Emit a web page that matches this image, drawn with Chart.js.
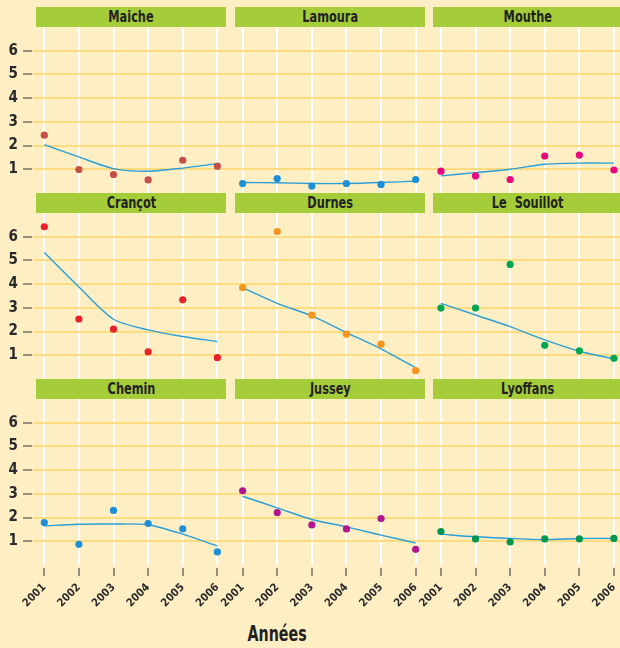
<!DOCTYPE html>
<html>
<head>
<meta charset="utf-8">
<script src="https://cdn.jsdelivr.net/npm/chart.js@4.4.0/dist/chart.umd.min.js"></script>
<style>
  body { margin: 0; width: 620px; height: 648px; background: #fdeec4; overflow: hidden; position: relative;
         font-family: 'Liberation Sans Narrow', 'DejaVu Sans Condensed', sans-serif; }
  canvas { position: absolute; left: 0; }
  .hd { position: absolute; height: 20px; line-height: 20px; background: #a5cd39; color: #222;
        font-weight: bold; font-size: 15px; text-align: center; white-space: pre; }
  .hd span { display: inline-block; transform: scaleX(0.84); }
  #xt { position: absolute; left: 0; width: 554px; top: 621px; text-align: center; font-size: 22px;
        font-weight: bold; color: #222; }
  #xt span { display: inline-block; transform: scaleX(0.72); }
</style>
</head>
<body>
<canvas id="row0" width="620" height="166" style="top:27px"></canvas>
<canvas id="row1" width="620" height="166" style="top:213px"></canvas>
<canvas id="row2" width="620" height="210" style="top:399px"></canvas>
<div id="xt"><span>Années</span></div>
<script>
// categories
const years = ["2001", "2002", "2003", "2004", "2005", "2006"];
const yTicks = [1, 2, 3, 4, 5, 6];
const sites = [
  ["Maiche", "Lamoura", "Mouthe"],
  ["Crançot", "Durnes", "Le  Souillot"],
  ["Chemin", "Jussey", "Lyoffans"],
];

// observed values
const maiche = [2.44, 0.99, 0.78, 0.55, 1.38, 1.13];
const lamoura = [0.40, 0.61, 0.29, 0.40, 0.36, 0.57];
const mouthe = [0.92, 0.72, 0.57, 1.56, 1.60, 0.97];
const crancot = [6.42, 2.53, 2.10, 1.15, 3.34, 0.90];
const durnes = [3.85, 6.22, 2.69, 1.89, 1.47, 0.35];
const souillot = [2.99, 2.99, 4.83, 1.42, 1.19, 0.87];
const chemin = [1.79, 0.87, 2.30, 1.75, 1.52, 0.55];
const jussey = [3.13, 2.21, 1.69, 1.52, 1.96, 0.66];
const lyoffans = [1.41, 1.10, 0.97, 1.10, 1.10, 1.12];

// smoothed trend
const maicheFit = [2.04, 1.52, 1.03, 0.92, 1.05, 1.24];
const lamouraFit = [0.44, 0.43, 0.40, 0.40, 0.44, 0.50];
const moutheFit = [0.72, 0.86, 1.00, 1.21, 1.26, 1.26];
const crancotFit = [5.33, 3.88, 2.52, 2.07, 1.79, 1.58];
const durnesFit = [3.85, 3.19, 2.66, 1.96, 1.27, 0.47];
const souillotFit = [3.19, 2.70, 2.21, 1.65, 1.17, 0.85];
const cheminFit = [1.65, 1.72, 1.73, 1.70, 1.30, 0.80];
const jusseyFit = [2.90, 2.41, 1.92, 1.61, 1.26, 0.93];
const lyoffansFit = [1.30, 1.19, 1.12, 1.07, 1.12, 1.12];

const values = [[maiche, lamoura, mouthe], [crancot, durnes, souillot], [chemin, jussey, lyoffans]];
const fits = [[maicheFit, lamouraFit, moutheFit], [crancotFit, durnesFit, souillotFit], [cheminFit, jusseyFit, lyoffansFit]];

// styles
const dotColors = [["#c4504a", "#1c8fd6", "#e8087f"], ["#e8222a", "#f7941d", "#00a651"], ["#1c8fd6", "#b0178f", "#00964f"]];
const FONT = "'Liberation Sans Narrow', 'DejaVu Sans Condensed', sans-serif";
const COLSTEP = 5.73; // panel spacing in year units
const colLeft = [36, 235, 433];
const rowTop = [7, 193, 379];

// headers
sites.forEach((row, r) => row.forEach((name, c) => {
  const d = document.createElement("div");
  d.className = "hd";
  const s = document.createElement("span");
  s.textContent = name;
  d.appendChild(s);
  d.style.left = colLeft[c] + "px";
  d.style.top = rowTop[r] + "px";
  d.style.width = "190px";
  document.body.appendChild(d);
}));

const tickPos = [];
for (let c = 0; c < 3; c++) years.forEach((y, i) => tickPos.push(c * COLSTEP + i));

function rowChart(r) {
  const datasets = [];
  for (let c = 0; c < 3; c++) {
    datasets.push({
      data: values[r][c].map((v, i) => ({ x: c * COLSTEP + i, y: v })),
      backgroundColor: dotColors[r][c],
      borderWidth: 0,
      pointRadius: 3.6,
      order: 1,
    });
    datasets.push({
      data: fits[r][c].map((v, i) => ({ x: c * COLSTEP + i, y: v })),
      showLine: true,
      borderColor: "#2a9ed6",
      borderWidth: 1.4,
      pointRadius: 0,
      tension: 0.25,
      order: 2,
    });
  }
  const last = r === 2;
  new Chart(document.getElementById("row" + r), {
    type: "scatter",
    data: { datasets: datasets },
    options: {
      responsive: false,
      animation: false,
      layout: { padding: 0, autoPadding: false },
      plugins: { legend: { display: false }, tooltip: { enabled: false } },
      scales: {
        x: {
          type: "linear",
          min: -0.3265,
          max: 16.634,
          afterBuildTicks: (s) => { s.ticks = tickPos.map((v) => ({ value: v })); },
          afterFit: (s) => {
            s.height = last ? 44 : 0;
            s.paddingLeft = 0; s.paddingRight = 0; s.paddingTop = 0; s.paddingBottom = 0;
          },
          border: { display: false },
          grid: {
            color: "#ffffff",
            lineWidth: 2,
            drawTicks: last,
            tickLength: 11,
            tickColor: "#333",
            tickWidth: 1,
            tickBorderDash: [0, 3, 8, 100],
          },
          ticks: {
            display: last,
            autoSkip: false,
            minRotation: 45,
            maxRotation: 45,
            padding: 5,
            color: "#2a2a2a",
            font: { family: FONT, size: 11, weight: "bold" },
            callback: (v) => years[Math.round(((v % COLSTEP) + COLSTEP) % COLSTEP)],
          },
        },
        y: {
          min: 0,
          max: 7,
          afterBuildTicks: (s) => { s.ticks = yTicks.map((v) => ({ value: v })); },
          afterFit: (s) => {
            s.width = 33;
            s.paddingLeft = 0; s.paddingRight = 0; s.paddingTop = 0; s.paddingBottom = 0;
          },
          border: { display: false },
          grid: {
            color: "#fddc80",
            lineWidth: 2,
            tickLength: 10,
            tickColor: "#333",
            tickWidth: 1,
            tickBorderDash: [9, 100],
          },
          ticks: {
            padding: 5,
            color: "#2a2a2a",
            font: { family: FONT, size: 15, weight: "bold" },
          },
        },
      },
    },
  });
}

[0, 1, 2].forEach(rowChart);
</script>
</body>
</html>
